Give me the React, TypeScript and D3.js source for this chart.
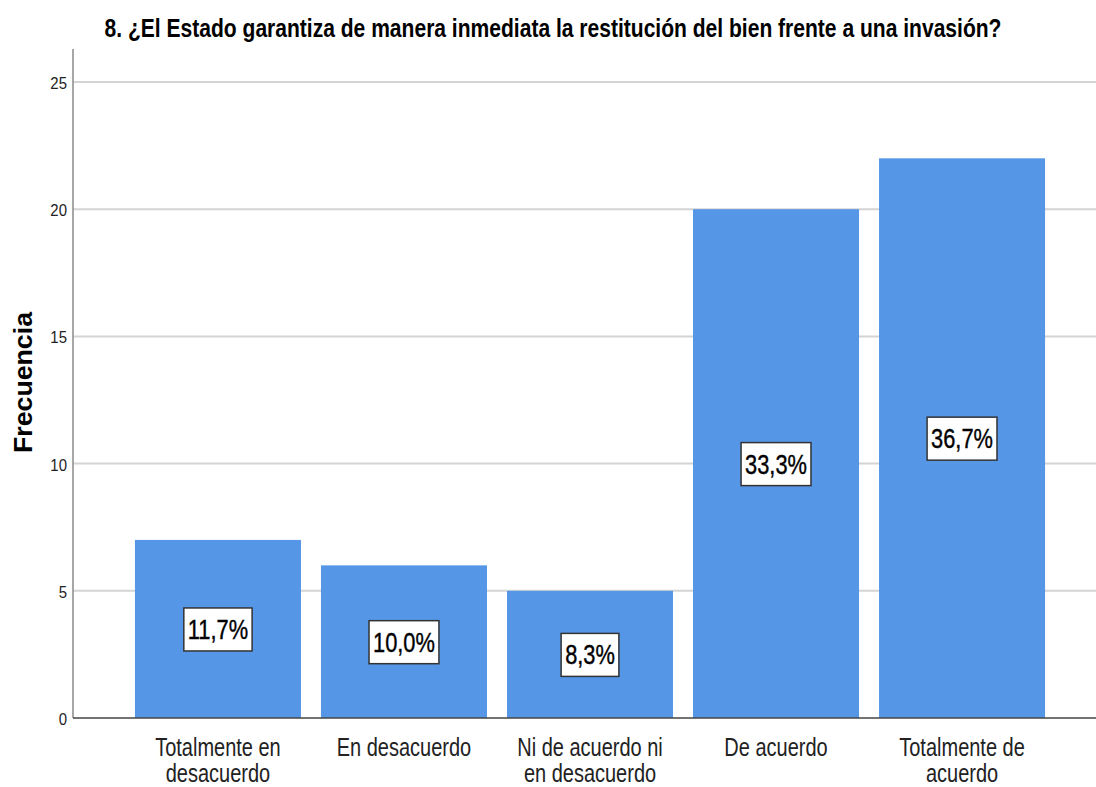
import { useEffect, useRef } from 'react';
import * as d3 from 'd3';

const categories = [
  ['Totalmente en', 'desacuerdo'],
  ['En desacuerdo'],
  ['Ni de acuerdo ni', 'en desacuerdo'],
  ['De acuerdo'],
  ['Totalmente de', 'acuerdo'],
];
const frecuencias = [7, 6, 5, 20, 22];
const porcentajes = ['11,7%', '10,0%', '8,3%', '33,3%', '36,7%'];
const yTicks = [0, 5, 10, 15, 20, 25];

const W = 1096;
const H = 787;
const font = '"Liberation Sans", Arial, sans-serif';

export default function App() {
  const svgRef = useRef<SVGSVGElement>(null);

  useEffect(() => {
    if (!svgRef.current) return;
    const svg = d3.select(svgRef.current);
    svg.selectAll('*').remove();

    const axisX = 73;
    const y = d3.scaleLinear().domain([0, 25]).range([718, 82]);
    const x = d3
      .scaleBand<number>()
      .domain(d3.range(categories.length))
      .range([axisX, 1107])
      .paddingInner(0.1075)
      .paddingOuter(0.333);

    // texto estrecho (sin Arial Narrow disponible)
    const narrowText = (
      parent: d3.Selection<any, any, any, any>,
      tx: number,
      ty: number,
      txt: string,
      size: number,
      sx: number,
      anchor = 'middle',
      weight = 'normal'
    ) =>
      parent
        .append('text')
        .attr('transform', `translate(${tx},${ty}) scale(${sx},1)`)
        .attr('text-anchor', anchor)
        .style('font-family', font)
        .style('font-size', `${size}px`)
        .style('font-weight', weight)
        .attr('fill', '#000')
        .text(txt);

    svg.append('rect').attr('width', W).attr('height', H).attr('fill', '#fff');

    // título
    narrowText(
      svg,
      553,
      37,
      '8. ¿El Estado garantiza de manera inmediata la restitución del bien frente a una invasión?',
      26,
      0.81,
      'middle',
      'bold'
    );

    // líneas de cuadrícula
    svg
      .selectAll('line.grid')
      .data(yTicks.filter((t) => t > 0))
      .join('line')
      .attr('class', 'grid')
      .attr('x1', axisX)
      .attr('x2', W)
      .attr('y1', (d) => y(d))
      .attr('y2', (d) => y(d))
      .attr('stroke', '#d4d4d4')
      .attr('stroke-width', 2);

    // barras
    svg
      .selectAll('rect.bar')
      .data(frecuencias)
      .join('rect')
      .attr('class', 'bar')
      .attr('x', (_, i) => x(i)!)
      .attr('y', (d) => y(d))
      .attr('width', x.bandwidth())
      .attr('height', (d) => y(0) - y(d))
      .attr('fill', '#5596e6');

    // ejes
    svg
      .append('line')
      .attr('x1', axisX)
      .attr('x2', axisX)
      .attr('y1', 49)
      .attr('y2', y(0))
      .attr('stroke', '#8a8a8a')
      .attr('stroke-width', 1.5);
    svg
      .append('line')
      .attr('x1', axisX)
      .attr('x2', W)
      .attr('y1', y(0))
      .attr('y2', y(0))
      .attr('stroke', '#444')
      .attr('stroke-width', 1.5);

    yTicks.forEach((t) => {
      narrowText(svg, 67, y(t) + 7, String(t), 17, 0.88, 'end').attr('fill', '#222');
    });

    svg
      .append('text')
      .attr('transform', `translate(32,${453}) rotate(-90)`)
      .attr('textLength', 141)
      .attr('lengthAdjust', 'spacingAndGlyphs')
      .style('font-family', font)
      .style('font-weight', 'bold')
      .style('font-size', '26px')
      .attr('fill', '#000')
      .text('Frecuencia');

    // etiquetas de categorías
    categories.forEach((lines, i) => {
      const cx = x(i)! + x.bandwidth() / 2;
      lines.forEach((s, j) => {
        narrowText(svg, cx, 756 + j * 26, s, 25, 0.8).attr('fill', '#222');
      });
    });

    // etiquetas de porcentaje
    frecuencias.forEach((d, i) => {
      const cx = x(i)! + x.bandwidth() / 2;
      const cy = y(d / 2);
      const g = svg.append('g');
      const rect = g.append('rect');
      const t = narrowText(g, cx, cy + 10, porcentajes[i], 28, 0.78);
      t.attr('stroke', '#000').attr('stroke-width', 0.4);
      const w = (t.node() as SVGTextElement).getBBox().width * 0.78;
      rect
        .attr('x', cx - w / 2 - 4)
        .attr('y', cy - 21)
        .attr('width', w + 8)
        .attr('height', 43)
        .attr('fill', '#fff')
        .attr('stroke', '#333')
        .attr('stroke-width', 1.5);
    });
  }, []);

  return (
    <svg
      ref={svgRef}
      width={W}
      height={H}
      style={{ display: 'block', position: 'absolute', left: 0, top: 0 }}
    />
  );
}
